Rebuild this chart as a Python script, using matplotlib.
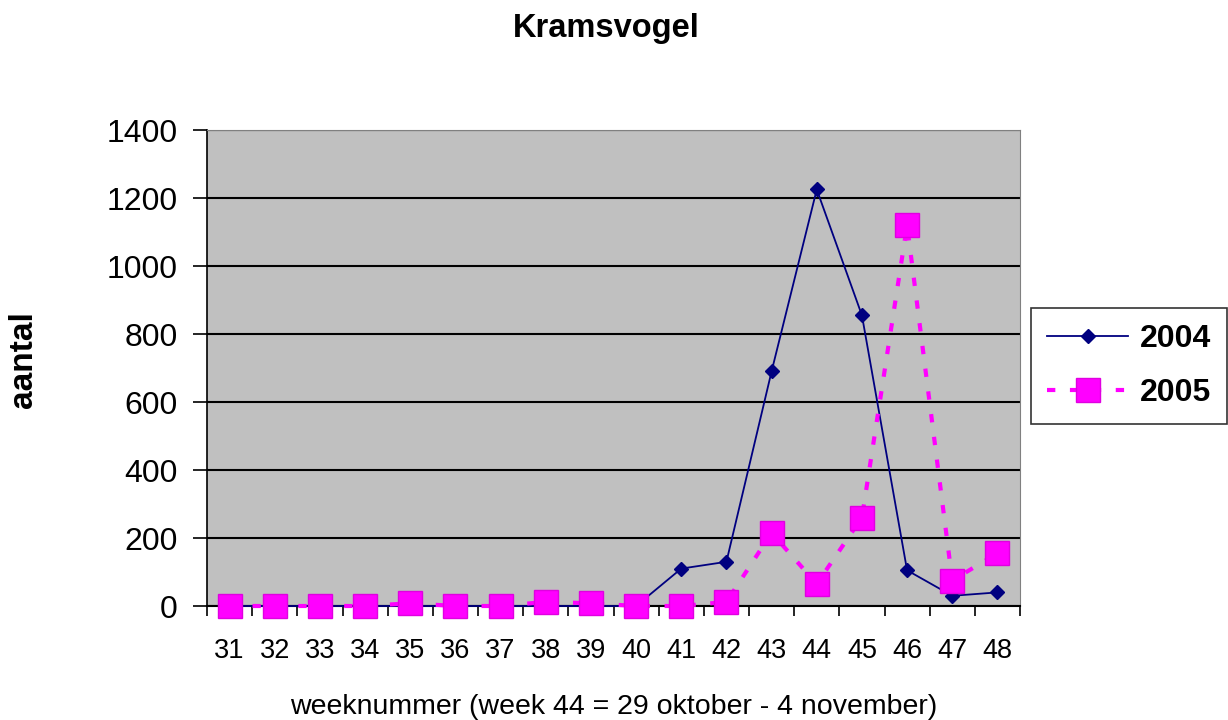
import matplotlib
matplotlib.use("Agg")
import matplotlib.pyplot as plt

weeks = [31, 32, 33, 34, 35, 36, 37, 38, 39, 40, 41, 42, 43, 44, 45, 46, 47, 48]
y2004 = [0, 0, 0, 0, 0, 0, 0, 0, 0, 0, 110, 130, 690, 1225, 855, 105, 30, 40]
y2005 = [0, 0, 0, 0, 8, 0, 0, 12, 8, 0, 0, 12, 215, 65, 260, 1120, 75, 155]
yticks = [0, 200, 400, 600, 800, 1000, 1200, 1400]

plt.rcParams['font.family'] = ['Liberation Sans', 'DejaVu Sans']

fig = plt.figure(figsize=(12.28, 7.2), dpi=100)
ax = fig.add_axes([207/1228, 1 - 606/720, (1020-207)/1228, (606-130)/720])
ax.set_facecolor('#C0C0C0')

ax.plot(weeks, y2004, color='#000080', lw=1.3, marker='D', markersize=7,
        markerfacecolor='#000080', markeredgecolor='#000080', label='2004', zorder=3,
        clip_on=False)
ax.plot(weeks, y2005, color='#FF00FF', lw=3, ls=(0, (2, 3.5)), marker='s', markersize=17,
        markerfacecolor='#FF00FF', markeredgecolor='#E000E0', label='2005', zorder=4,
        clip_on=False)

ax.set_xlim(30.5, 48.5)
ax.set_ylim(0, 1400)
ax.set_yticks(yticks)
ax.set_yticklabels([str(v) for v in yticks], fontsize=23)
ax.set_xticks(weeks)
ax.set_xticklabels([str(w) for w in weeks], fontsize=19.5)
ax.set_xticks([w + 0.5 for w in [30] + weeks], minor=True)
ax.tick_params(axis='x', which='major', length=0, pad=23)
ax.tick_params(axis='x', which='minor', length=7, width=1.2, color='black')
ax.tick_params(axis='y', which='major', length=10, width=1.2, pad=11)
ax.grid(axis='y', color='black', lw=1.5)
ax.set_axisbelow(True)
for s in ax.spines.values():
    s.set_color('#808080')
ax.spines['bottom'].set_color('black')
ax.spines['bottom'].set_linewidth(1.5)
ax.spines['left'].set_color('black')
ax.spines['left'].set_linewidth(1.2)

ax.set_xlabel('weeknummer (week 44 = 29 oktober - 4 november)', fontsize=20.5, labelpad=22)
fig.text(24/1228, 1 - 360/720, 'aantal', rotation=90, ha='center', va='center',
         fontsize=24, fontweight='bold')
fig.text(606/1228, 1 - 28/720, 'Kramsvogel', ha='center', va='center', fontsize=23.5, fontweight='bold')

leg = ax.legend(loc='upper left', bbox_to_anchor=(1031/1228, 1 - 308/720),
                bbox_transform=fig.transFigure, frameon=True, fancybox=False,
                prop={'size': 23, 'weight': 'bold'}, handlelength=2.55, borderpad=0.5,
                labelspacing=0.75, markerscale=1.0, borderaxespad=0, handletextpad=0.35)
leg.get_frame().set_edgecolor('black')
leg.get_frame().set_linewidth(1.2)

fig.savefig('out.png', dpi=100, facecolor='white')
